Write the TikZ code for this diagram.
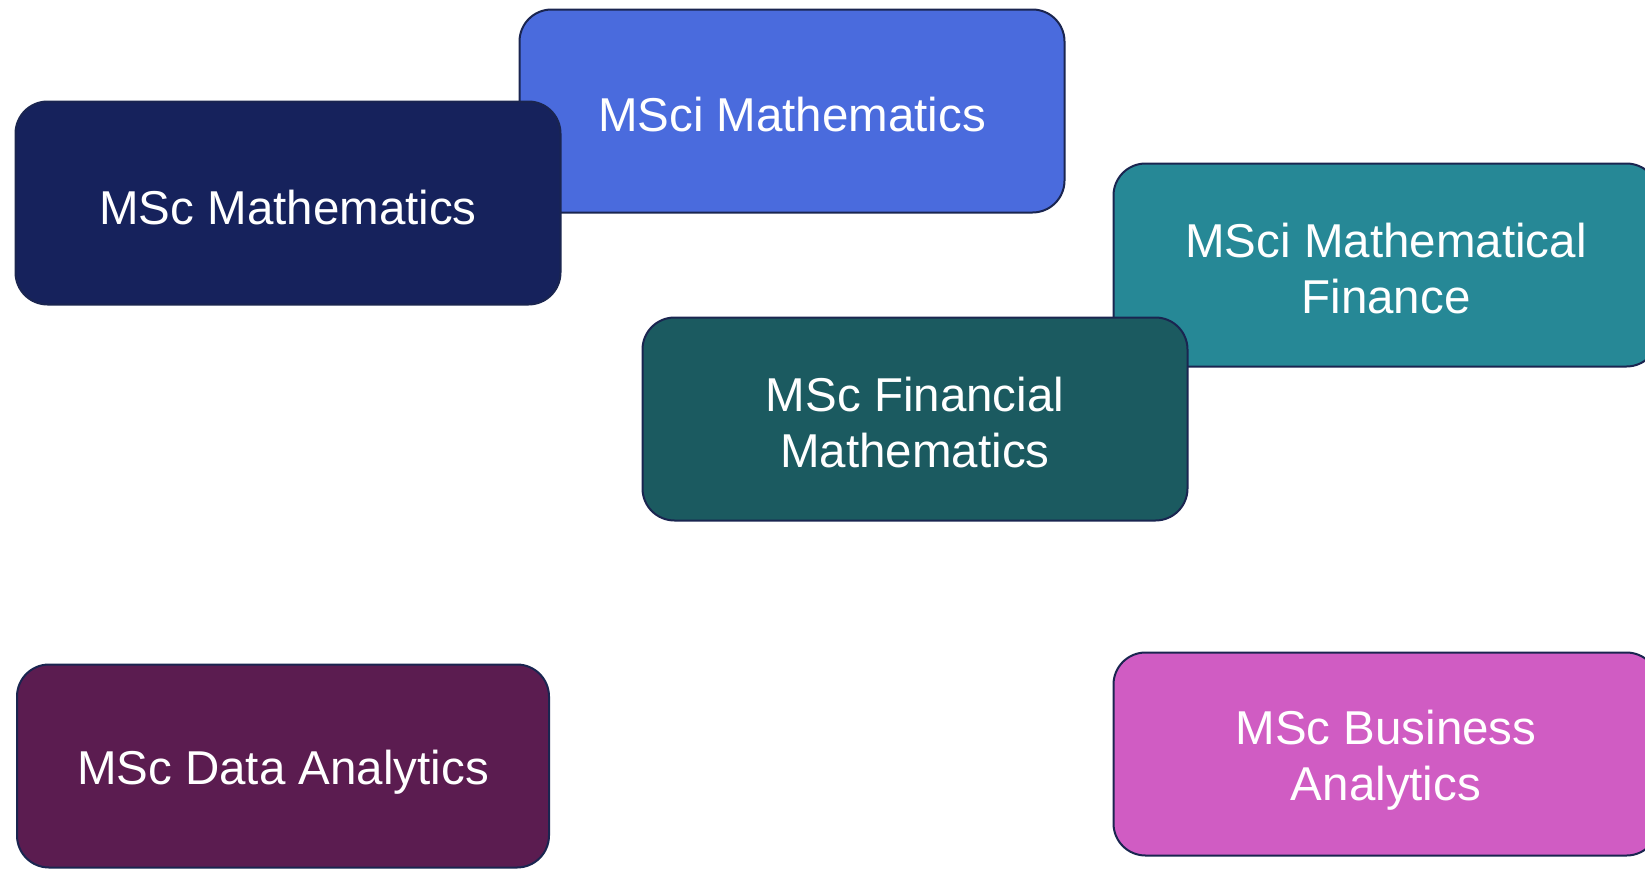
\documentclass[tikz,border=0pt]{standalone}
\usepackage{fontspec}
\setmainfont{Liberation Sans}
\definecolor{cMSciMath}{HTML}{4A6BDD}
\definecolor{cMScMath}{HTML}{16225C}
\definecolor{cMSciMF}{HTML}{268896}
\definecolor{cMScFM}{HTML}{1B5A60}
\definecolor{cMScDA}{HTML}{5B1C50}
\definecolor{cMScBA}{HTML}{D05CC3}
\definecolor{cBorder}{HTML}{1A2550}
\begin{document}
\begin{tikzpicture}[x=1pt,y=-1pt,
  prog/.style={rectangle, rounded corners=32pt, draw=cBorder, line width=2pt,
    minimum width=545pt, minimum height=203pt, inner sep=0pt},
  progtext/.style={inner sep=0pt, text=white, align=center,
    font=\fontsize{47.5}{56}\selectfont}]
\clip (0,0) rectangle (1645,870);
\fill[white] (0,0) rectangle (1645,870);
\node[prog, fill=cMSciMath] (mscimath) at (792,111) {};
\node[progtext] (mscimath-t) at (792,115) {MSci Mathematics};
\node[prog, fill=cMScMath] (mscmath) at (288,203) {};
\node[progtext] (mscmath-t) at (288,208) {MSc Mathematics};
\node[prog, fill=cMSciMF] (mscimf) at (1386,265) {};
\node[progtext] (mscimf-t) at (1386,269) {MSci Mathematical\\Finance};
\node[prog, fill=cMScFM] (mscfm) at (915,419) {};
\node[progtext] (mscfm-t) at (915,423) {MSc Financial\\Mathematics};
\node[prog, fill=cMScDA, minimum width=532pt] (mscda) at (283,766) {};
\node[progtext] (mscda-t) at (283,772) {MSc Data Analytics};
\node[prog, fill=cMScBA] (mscba) at (1386,754) {};
\node[progtext] (mscba-t) at (1386,760) {MSc Business\\Analytics};
\end{tikzpicture}
\end{document}
